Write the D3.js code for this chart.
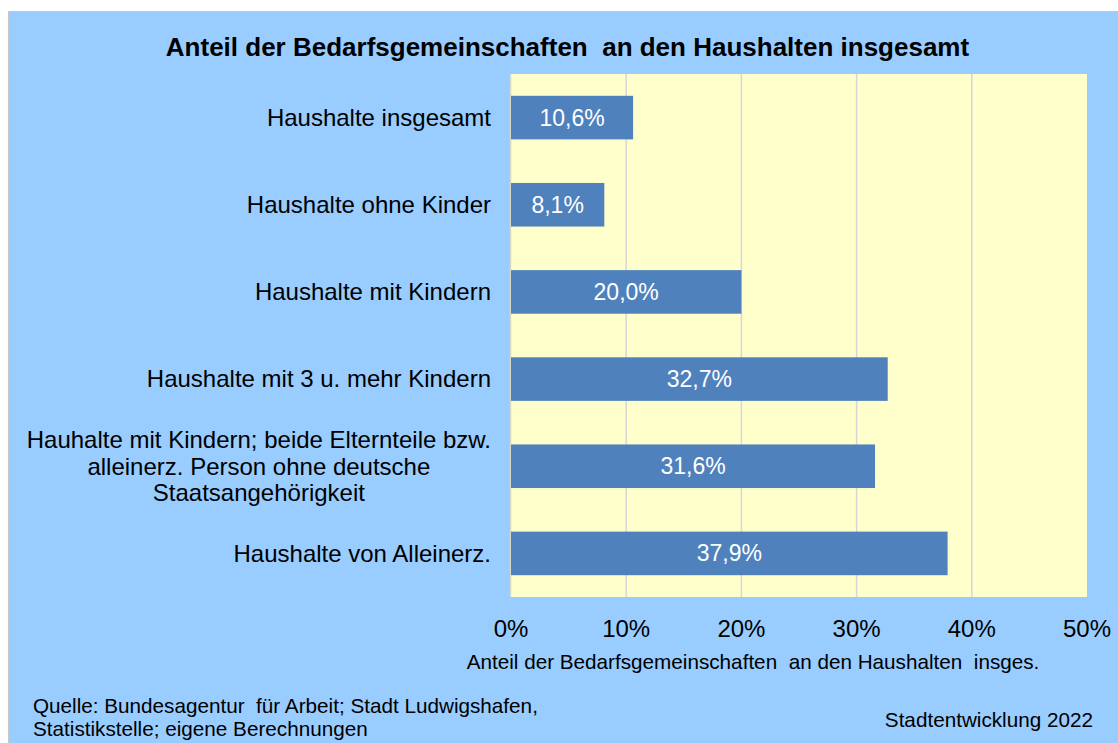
<!DOCTYPE html>
<html>
<head>
<meta charset="utf-8">
<script src="https://cdn.jsdelivr.net/npm/d3@7"></script>
<style>
  body { margin: 0; background: #fff; }
  svg { display: block; font-family: "Liberation Sans", Arial, sans-serif; }
</style>
</head>
<body>
<div id="chart"></div>
<script>
// data
const categories = [
    ["Haushalte insgesamt"],
    ["Haushalte ohne Kinder"],
    ["Haushalte mit Kindern"],
    ["Haushalte mit 3 u. mehr Kindern"],
    ["Hauhalte mit Kindern; beide Elternteile bzw.", "alleinerz. Person ohne deutsche", "Staatsangehörigkeit"],
    ["Haushalte von Alleinerz."]
];
const values = [10.6, 8.1, 20.0, 32.7, 31.6, 37.9];
const ticks = [0, 10, 20, 30, 40, 50];

const W = 1118, H = 743;
const plot = { left: 511, right: 1087, top: 74, bottom: 597 };

const svg = d3.select("#chart").append("svg")
    .attr("width", W)
    .attr("height", H);

// outer chart area
svg.append("rect")
    .attr("x", 8.5).attr("y", 11.5)
    .attr("width", W).attr("height", H)
    .attr("fill", "#99CCFF")
    .attr("stroke", "#C8C8C8");

const x = d3.scaleLinear().domain([0, 50]).range([plot.left, plot.right]);
const y = d3.scaleBand()
    .domain(categories.map((d, i) => i))
    .range([plot.top, plot.bottom])
    .paddingInner(0.5)
    .paddingOuter(0.25);

svg.append("rect")
    .attr("x", plot.left).attr("y", plot.top)
    .attr("width", plot.right - plot.left)
    .attr("height", plot.bottom - plot.top)
    .attr("fill", "#FFFFCC");

// gridlines
svg.append("g")
    .selectAll("line")
    .data(ticks.slice(1, -1))
    .enter().append("line")
    .attr("x1", d => x(d)).attr("x2", d => x(d))
    .attr("y1", plot.top).attr("y2", plot.bottom)
    .attr("stroke", "#D6D6D6")
    .attr("stroke-width", 1.5);

// left axis line
svg.append("line")
    .attr("x1", plot.left - 0.5).attr("x2", plot.left - 0.5)
    .attr("y1", plot.top).attr("y2", plot.bottom)
    .attr("stroke", "#D6D6CC")
    .attr("stroke-width", 1.5);

// bars
svg.append("g")
    .selectAll("rect")
    .data(values)
    .enter().append("rect")
    .attr("x", x(0))
    .attr("y", (d, i) => y(i))
    .attr("width", d => x(d) - x(0))
    .attr("height", y.bandwidth())
    .attr("fill", "#4F81BD");

// value labels
svg.append("g")
    .selectAll("text")
    .data(values)
    .enter().append("text")
    .attr("x", d => (x(0) + x(d)) / 2)
    .attr("y", (d, i) => y(i) + y.bandwidth() / 2)
    .attr("dy", "0.35em")
    .attr("text-anchor", "middle")
    .attr("fill", "#fff")
    .attr("font-size", 23)
    .text(d => d.toFixed(1).replace(".", ",") + "%");

// category labels
const lineH = 26.5;
const catG = svg.append("g").attr("font-size", 24).attr("fill", "#000");
categories.forEach((lines, i) => {
    const cy = y(i) + y.bandwidth() / 2;
    const t = catG.append("text")
        .attr("text-anchor", lines.length > 1 ? "middle" : "end");
    const spans = lines.map((s, k) => t.append("tspan")
        .attr("y", cy + (k - (lines.length - 1) / 2) * lineH)
        .attr("dy", "0.35em")
        .text(s));
    if (lines.length > 1) {
        const maxW = d3.max(spans, s => s.node().getComputedTextLength());
        spans.forEach(s => s.attr("x", 491 - maxW / 2));
    } else {
        spans.forEach(s => s.attr("x", 491));
    }
});

// x tick labels
svg.append("g")
    .selectAll("text")
    .data(ticks)
    .enter().append("text")
    .attr("x", d => x(d))
    .attr("y", 637)
    .attr("text-anchor", "middle")
    .attr("font-size", 24)
    .text(d => d + "%");

// axis title
svg.append("text")
    .attr("x", 753).attr("y", 669)
    .attr("text-anchor", "middle")
    .attr("font-size", 20.7)
    .style("white-space", "pre")
    .text("Anteil der Bedarfsgemeinschaften  an den Haushalten  insges.");

// title
svg.append("text")
    .attr("x", 567.5).attr("y", 56)
    .attr("text-anchor", "middle")
    .attr("font-size", 26)
    .attr("font-weight", "bold")
    .style("white-space", "pre")
    .text("Anteil der Bedarfsgemeinschaften  an den Haushalten insgesamt");

// source
svg.append("text")
    .attr("x", 33).attr("y", 713)
    .attr("font-size", 20.7)
    .style("white-space", "pre")
    .text("Quelle: Bundesagentur  für Arbeit; Stadt Ludwigshafen,");
svg.append("text")
    .attr("x", 33).attr("y", 736)
    .attr("font-size", 20.7)
    .text("Statistikstelle; eigene Berechnungen");
svg.append("text")
    .attr("x", 1093).attr("y", 727)
    .attr("text-anchor", "end")
    .attr("font-size", 20.7)
    .text("Stadtentwicklung 2022");
</script>
</body>
</html>
